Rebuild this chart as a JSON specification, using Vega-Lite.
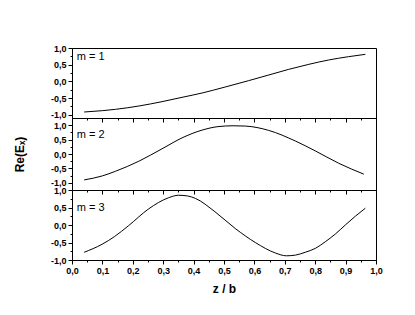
{
  "$schema": "https://vega.github.io/schema/vega-lite/v6.json",
  "padding": {"left": 12, "top": 43, "right": 5, "bottom": 5},
  "background": "white",
  "bounds": "flush",
  "spacing": 0,
  "config": {
    "view": {"stroke": "black", "strokeWidth": 1},
    "axis": {
      "grid": false,
      "domainColor": "black",
      "tickColor": "black",
      "tickCount": 100,
      "labelOverlap": false,
      "labelFont": "Liberation Sans",
      "labelFontWeight": "bold",
      "labelFontSize": 9,
      "labelColor": "black",
      "titleFont": "Liberation Sans",
      "titleFontWeight": "bold",
      "titleFontSize": 12,
      "titleColor": "black"
    }
  },
  "datasets": {
    "curves": [
      {"m": 1, "z": 0.04, "v": -0.92},
      {"m": 1, "z": 0.1, "v": -0.88},
      {"m": 1, "z": 0.143, "v": -0.84},
      {"m": 1, "z": 0.22, "v": -0.74},
      {"m": 1, "z": 0.296, "v": -0.61},
      {"m": 1, "z": 0.362, "v": -0.48},
      {"m": 1, "z": 0.428, "v": -0.35},
      {"m": 1, "z": 0.504, "v": -0.17},
      {"m": 1, "z": 0.581, "v": 0.02},
      {"m": 1, "z": 0.647, "v": 0.19},
      {"m": 1, "z": 0.713, "v": 0.36},
      {"m": 1, "z": 0.779, "v": 0.51},
      {"m": 1, "z": 0.844, "v": 0.64},
      {"m": 1, "z": 0.91, "v": 0.74},
      {"m": 1, "z": 0.965, "v": 0.81},
      {"m": 2, "z": 0.04, "v": -0.9},
      {"m": 2, "z": 0.1, "v": -0.76},
      {"m": 2, "z": 0.143, "v": -0.6},
      {"m": 2, "z": 0.22, "v": -0.25},
      {"m": 2, "z": 0.296, "v": 0.18},
      {"m": 2, "z": 0.362, "v": 0.56},
      {"m": 2, "z": 0.428, "v": 0.83},
      {"m": 2, "z": 0.48, "v": 0.95},
      {"m": 2, "z": 0.53, "v": 0.98},
      {"m": 2, "z": 0.57, "v": 0.97},
      {"m": 2, "z": 0.647, "v": 0.82},
      {"m": 2, "z": 0.735, "v": 0.45},
      {"m": 2, "z": 0.8, "v": 0.11},
      {"m": 2, "z": 0.877, "v": -0.32},
      {"m": 2, "z": 0.96, "v": -0.7},
      {"m": 3, "z": 0.04, "v": -0.78},
      {"m": 3, "z": 0.099, "v": -0.55},
      {"m": 3, "z": 0.14, "v": -0.33},
      {"m": 3, "z": 0.186, "v": -0.02},
      {"m": 3, "z": 0.252, "v": 0.46},
      {"m": 3, "z": 0.318, "v": 0.78},
      {"m": 3, "z": 0.35, "v": 0.85},
      {"m": 3, "z": 0.38, "v": 0.83},
      {"m": 3, "z": 0.406, "v": 0.76},
      {"m": 3, "z": 0.47, "v": 0.38},
      {"m": 3, "z": 0.537, "v": -0.1},
      {"m": 3, "z": 0.603, "v": -0.5},
      {"m": 3, "z": 0.669, "v": -0.8},
      {"m": 3, "z": 0.705, "v": -0.88},
      {"m": 3, "z": 0.735, "v": -0.86},
      {"m": 3, "z": 0.767, "v": -0.78},
      {"m": 3, "z": 0.8, "v": -0.67},
      {"m": 3, "z": 0.833, "v": -0.48},
      {"m": 3, "z": 0.866, "v": -0.26},
      {"m": 3, "z": 0.899, "v": 0.0},
      {"m": 3, "z": 0.932, "v": 0.25},
      {"m": 3, "z": 0.965, "v": 0.48}
    ],
    "labels": [
      {"m": 1, "label": "m = 1"},
      {"m": 2, "label": "m = 2"},
      {"m": 3, "label": "m = 3"}
    ]
  },
  "vconcat": [
    {
      "width": 304,
      "height": 70,
      "layer": [
        {
          "data": {"name": "curves"},
          "transform": [{"filter": "datum.m == 1"}],
          "mark": {"type": "line", "color": "black", "strokeWidth": 1, "interpolate": "monotone"},
          "encoding": {
            "x": {"field": "z", "type": "quantitative", "scale": {"domain": [0, 1], "nice": false},
              "axis": {"title": null, "labels": false, "tickCount": 100, "values": [0,0.05,0.1,0.15,0.2,0.25,0.3,0.35,0.4,0.45,0.5,0.55,0.6,0.65,0.7,0.75,0.8,0.85,0.9,0.95,1],
                "tickSize": {"condition": {"test": "abs(datum.value*10 - round(datum.value*10)) < 0.001", "value": 4}, "value": 2}}},
            "y": {"field": "v", "type": "quantitative", "scale": {"domain": [-1.1, 1.0], "nice": false, "zero": false},
              "axis": {"title": null, "tickCount": 100, "minExtent": 40, "maxExtent": 40, "values": [-1,-0.75,-0.5,-0.25,0,0.25,0.5,0.75,1],
                "labelExpr": "abs(datum.value*2 - round(datum.value*2)) < 0.001 ? (datum.value < 0 ? '-' : '') + replace(format(abs(datum.value), '.1f'), '.', ',') : ''",
                "labelOverlap": false, "labelFlush": false, "labelPadding": 2,
                "tickSize": {"condition": {"test": "abs(datum.value*2 - round(datum.value*2)) < 0.001", "value": 4}, "value": 2}}}
          }
        },
        {
          "data": {"name": "labels"},
          "transform": [{"filter": "datum.m == 1"}],
          "mark": {"type": "text", "align": "left", "baseline": "middle", "fontSize": 11, "font": "Liberation Sans", "color": "black"},
          "encoding": {
            "x": {"datum": 0.016, "type": "quantitative"},
            "y": {"datum": 0.73, "type": "quantitative"},
            "text": {"field": "label"}
          }
        }
      ]
    },
    {
      "width": 304,
      "height": 72,
      "layer": [
        {
          "data": {"name": "curves"},
          "transform": [{"filter": "datum.m == 2"}],
          "mark": {"type": "line", "color": "black", "strokeWidth": 1, "interpolate": "monotone"},
          "encoding": {
            "x": {"field": "z", "type": "quantitative", "scale": {"domain": [0, 1], "nice": false},
              "axis": {"title": null, "labels": false, "tickCount": 100, "values": [0,0.05,0.1,0.15,0.2,0.25,0.3,0.35,0.4,0.45,0.5,0.55,0.6,0.65,0.7,0.75,0.8,0.85,0.9,0.95,1],
                "tickSize": {"condition": {"test": "abs(datum.value*10 - round(datum.value*10)) < 0.001", "value": 4}, "value": 2}}},
            "y": {"field": "v", "type": "quantitative", "scale": {"domain": [-1.25, 1.25], "nice": false, "zero": false},
              "axis": {"title": "Re(Eₓ)", "titlePadding": 6, "tickCount": 100, "minExtent": 40, "maxExtent": 40, "values": [-1,-0.75,-0.5,-0.25,0,0.25,0.5,0.75,1],
                "labelExpr": "abs(datum.value*2 - round(datum.value*2)) < 0.001 ? (datum.value < 0 ? '-' : '') + replace(format(abs(datum.value), '.1f'), '.', ',') : ''",
                "labelOverlap": false, "labelFlush": false, "labelPadding": 2,
                "tickSize": {"condition": {"test": "abs(datum.value*2 - round(datum.value*2)) < 0.001", "value": 4}, "value": 2}}}
          }
        },
        {
          "data": {"name": "labels"},
          "transform": [{"filter": "datum.m == 2"}],
          "mark": {"type": "text", "align": "left", "baseline": "middle", "fontSize": 11, "font": "Liberation Sans", "color": "black"},
          "encoding": {
            "x": {"datum": 0.016, "type": "quantitative"},
            "y": {"datum": 0.65, "type": "quantitative"},
            "text": {"field": "label"}
          }
        }
      ]
    },
    {
      "width": 304,
      "height": 70,
      "layer": [
        {
          "data": {"name": "curves"},
          "transform": [{"filter": "datum.m == 3"}],
          "mark": {"type": "line", "color": "black", "strokeWidth": 1, "interpolate": "monotone"},
          "encoding": {
            "x": {"field": "z", "type": "quantitative", "scale": {"domain": [0, 1], "nice": false},
              "axis": {"title": "z / b", "titlePadding": 8, "tickCount": 100, "values": [0,0.05,0.1,0.15,0.2,0.25,0.3,0.35,0.4,0.45,0.5,0.55,0.6,0.65,0.7,0.75,0.8,0.85,0.9,0.95,1],
                "labelExpr": "abs(datum.value*10 - round(datum.value*10)) < 0.001 ? replace(format(datum.value, '.1f'), '.', ',') : ''",
                "labelOverlap": false, "labelFlush": false, "labelPadding": 2,
                "tickSize": {"condition": {"test": "abs(datum.value*10 - round(datum.value*10)) < 0.001", "value": 4}, "value": 2}}},
            "y": {"field": "v", "type": "quantitative", "scale": {"domain": [-1, 1], "nice": false, "zero": false},
              "axis": {"title": null, "tickCount": 100, "minExtent": 40, "maxExtent": 40, "values": [-1,-0.75,-0.5,-0.25,0,0.25,0.5,0.75,1],
                "labelExpr": "abs(datum.value*2 - round(datum.value*2)) < 0.001 ? (datum.value < 0 ? '-' : '') + replace(format(abs(datum.value), '.1f'), '.', ',') : ''",
                "labelOverlap": false, "labelFlush": false, "labelPadding": 2,
                "tickSize": {"condition": {"test": "abs(datum.value*2 - round(datum.value*2)) < 0.001", "value": 4}, "value": 2}}}
          }
        },
        {
          "data": {"name": "labels"},
          "transform": [{"filter": "datum.m == 3"}],
          "mark": {"type": "text", "align": "left", "baseline": "middle", "fontSize": 11, "font": "Liberation Sans", "color": "black"},
          "encoding": {
            "x": {"datum": 0.016, "type": "quantitative"},
            "y": {"datum": 0.49, "type": "quantitative"},
            "text": {"field": "label"}
          }
        }
      ]
    }
  ]
}
